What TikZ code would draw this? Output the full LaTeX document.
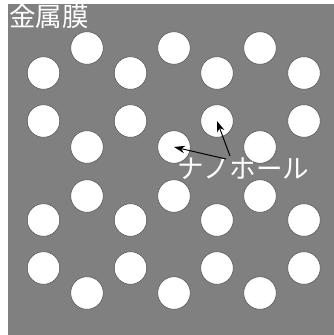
\documentclass[tikz,border=0pt]{standalone}
\usepackage{fontspec}
\newfontfamily\jp{Noto Sans CJK JP}
\usetikzlibrary{arrows.meta}
\begin{document}
\begin{tikzpicture}[x=1pt,y=-1pt,
  hole/.style={circle,fill=white,draw=gray!60!black,line width=0.5pt,minimum size=32.5pt,inner sep=0pt},
  lbl/.style={text=white,font=\jp\fontsize{26.5}{27}\selectfont,inner sep=0pt},
  arr/.style={-{Stealth[length=11pt,width=7.5pt]},line width=1pt,black}]
\useasboundingbox (0,0) rectangle (334,335);
\fill[white] (0,0) rectangle (334,335);
\fill[gray] (8,4) rectangle (334,335);
% odd columns
\foreach \x [count=\i] in {43.5,130.5,217,304}{
  \foreach \y [count=\j] in {73,121,220,268}{
    \node[hole] (o-\i-\j) at (\x,\y) {};
  }
}
% even columns
\foreach \x [count=\i] in {87,174,260}{
  \foreach \y [count=\j] in {48,147,196,293}{
    \node[hole] (e-\i-\j) at (\x,\y) {};
  }
}
\node[lbl,anchor=north west] (metal) at (9,4) {金属膜};
\node[lbl] (nano) at (243.5,168.5) {ナノホール};
\coordinate (s1) at (230,156);
\coordinate (s2) at (226,159);
\draw[arr] (s1) -- (o-3-2.center);
\draw[arr] (s2) -- (e-2-2.center);
\end{tikzpicture}
\end{document}
